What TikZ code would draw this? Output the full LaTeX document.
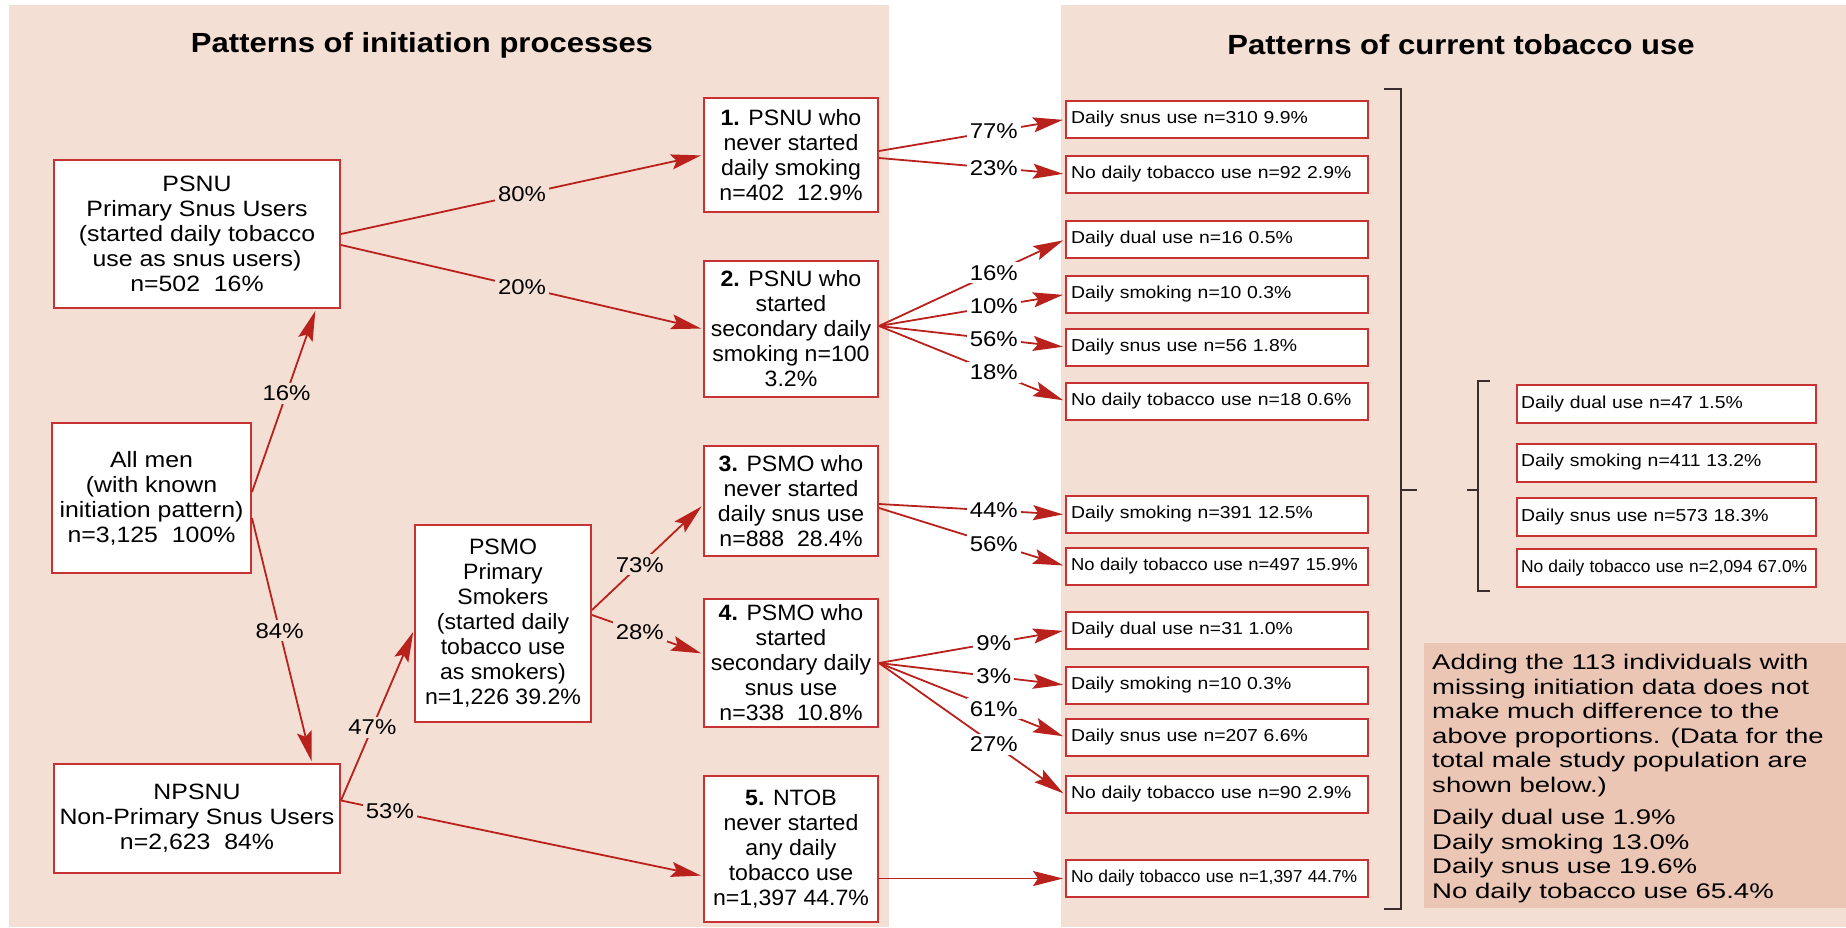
\documentclass[tikz,border=0pt]{standalone}
\usepackage{fontspec}
\setmainfont{Liberation Sans}[FakeStretch=1.12]
\newfontfamily\narrowfont{Liberation Sans}[FakeStretch=1.04]
\newfontfamily\notefont{Liberation Sans}[FakeStretch=1.3]
\usepackage{graphicx}
\usepackage{tikz}
\usetikzlibrary{arrows.meta}

\definecolor{panelbg}{RGB}{244,223,212}
\definecolor{notebg}{RGB}{236,198,181}
\definecolor{boxred}{RGB}{200,50,50}
\definecolor{arrred}{RGB}{184,33,28}
\definecolor{brkcol}{RGB}{60,45,45}

\newcommand{\narrowtxt}[2]{\scalebox{#1}[1]{#2}}

\begin{document}
\begin{tikzpicture}[x=1pt, y=-1pt,
    title/.style={font=\bfseries\fontsize{27.7}{30}\selectfont},
    box/.style={draw=boxred, fill=white, line width=2pt, align=center, inner sep=2pt,
      font=\fontsize{22.2}{25}\selectfont},
    nbox/.style={box, font=\narrowfont\fontsize{22.2}{25}\selectfont},
    outbox/.style={draw=boxred, fill=white, line width=2pt, text width=292pt, inner sep=5pt,
      minimum height=37pt, align=left, font=\fontsize{17.3}{20}\selectfont},
    pct/.style={fill=panelbg, inner sep=3pt, font=\fontsize{21.4}{24}\selectfont},
    pctw/.style={pct, fill=white},
    arr/.style={draw=arrred, line width=1.8pt, shorten >=2pt,
      -{Stealth[length=30pt, width=15pt, inset=5pt]}},
    brk/.style={draw=brkcol, line width=1.8pt},
    note/.style={align=left, inner sep=0pt, font=\notefont\fontsize{21.2}{24.5}\selectfont}]

    \useasboundingbox (0,0) rectangle (1846,927);

    % Panels
    \fill[panelbg] (9,5) rectangle (889,927);
    \fill[panelbg] (1061,5) rectangle (1846,927);
    \fill[notebg] (1424,643) rectangle (1846,908);

    % Titles
    \node[title] (tinit) at (422,45) {Patterns of initiation processes};
    \node[title] (tcurr) at (1461,45) {Patterns of current tobacco use};

    % Initiation groups
    \node[box, minimum width=286pt, minimum height=148pt] (psnu) at (197,234)
        {PSNU\\Primary Snus Users\\(started daily tobacco\\use as snus users)\\n=502\ \ 16\%};
    \node[box, minimum width=199pt, minimum height=150pt] (allmen) at (151.5,498)
        {All men\\(with known\\initiation pattern)\\n=3,125\ \ 100\%};
    \node[box, minimum width=286pt, minimum height=109pt] (npsnu) at (197,818.5)
        {NPSNU\\Non-Primary Snus Users\\n=2,623\ \ 84\%};
    \node[nbox, minimum width=176pt, minimum height=197pt] (psmo) at (503,623.5)
        {PSMO\\Primary\\Smokers\\(started daily\\tobacco use\\as smokers)\\n=1,226 39.2\%};

    % Patterns 1-5
    \node[nbox, minimum width=174pt, minimum height=114pt] (b1) at (791,155)
        {\textbf{1.} PSNU who\\never started\\daily smoking\\n=402\ \ 12.9\%};
    \node[nbox, minimum width=174pt, minimum height=136pt] (b2) at (791,329)
        {\textbf{2.} PSNU who\\started\\secondary daily\\smoking n=100\\3.2\%};
    \node[nbox, minimum width=174pt, minimum height=110pt] (b3) at (791,501)
        {\textbf{3.} PSMO who\\never started\\daily snus use\\n=888\ \ 28.4\%};
    \node[nbox, minimum width=174pt, minimum height=128pt] (b4) at (791,663)
        {\textbf{4.} PSMO who\\started\\secondary daily\\snus use\\n=338\ \ 10.8\%};
    \node[nbox, minimum width=174pt, minimum height=146pt] (b5) at (791,849)
        {\textbf{5.} NTOB\\never started\\any daily\\tobacco use\\n=1,397 44.7\%};

    % Current use
    \node[outbox] (oa) at (1217,119.5) {Daily snus use n=310 9.9\%};
    \node[outbox] (ob) at (1217,174) {No daily tobacco use n=92 2.9\%};
    \node[outbox] (oc) at (1217,239.5) {Daily dual use n=16 0.5\%};
    \node[outbox] (od) at (1217,294.5) {Daily smoking n=10 0.3\%};
    \node[outbox] (oe) at (1217,347) {Daily snus use n=56 1.8\%};
    \node[outbox] (of) at (1217,401) {No daily tobacco use n=18 0.6\%};
    \node[outbox] (og) at (1217,514.5) {Daily smoking n=391 12.5\%};
    \node[outbox] (oh) at (1217,566) {\narrowtxt{0.95}{No daily tobacco use n=497 15.9\%}};
    \node[outbox] (oi) at (1217,630.5) {Daily dual use n=31 1.0\%};
    \node[outbox] (oj) at (1217,685) {Daily smoking n=10 0.3\%};
    \node[outbox] (ok) at (1217,737) {Daily snus use n=207 6.6\%};
    \node[outbox] (ol) at (1217,794.5) {No daily tobacco use n=90 2.9\%};
    \node[outbox] (om) at (1217,878.5) {\narrowtxt{0.9}{No daily tobacco use n=1,397 44.7\%}};

    % Totals
    \node[outbox, text width=291pt, inner sep=4pt, minimum height=38pt] (sa) at (1666.5,404) {Daily dual use n=47 1.5\%};
    \node[outbox, text width=291pt, inner sep=4pt, minimum height=38pt] (sb) at (1666.5,462.5) {Daily smoking n=411 13.2\%};
    \node[outbox, text width=291pt, inner sep=4pt, minimum height=38pt] (sc) at (1666.5,517) {Daily snus use n=573 18.3\%};
    \node[outbox, text width=291pt, inner sep=4pt, minimum height=38pt] (sd) at (1666.5,568) {\narrowtxt{0.9}{No daily tobacco use n=2,094 67.0\%}};

    % Brackets
    \draw[brk] (1384,89) -- (1401,89) -- (1401,909) -- (1384,909);
    \draw[brk] (1401,490) -- (1417,490);
    \draw[brk] (1490,381) -- (1478,381) -- (1478,591) -- (1490,591);
    \draw[brk] (1467,490) -- (1478,490);

    % Note
    \node[note, anchor=north west] (note) at (1432,654)
        {Adding the 113 individuals with\\missing initiation data does not\\make much difference to the\\above proportions. (Data for the\\total male study population are\\shown below.)\\[8pt]
         Daily dual use 1.9\%\\Daily smoking 13.0\%\\Daily snus use 19.6\%\\No daily tobacco use 65.4\%};

    % Initiation arrows
    \draw[arr] ([yshift=6pt]allmen.east) -- node[pct, pos=0.54] {16\%} ([xshift=-25pt]psnu.south east);
    \draw[arr] ([yshift=-20pt]allmen.east) -- node[pct, pos=0.46] {84\%} ([xshift=-29pt]npsnu.north east);
    \draw[arr] (psnu.east) -- node[pct] {80\%} (b1.west);
    \draw[arr] ([yshift=-11pt]psnu.east) -- node[pct] {20\%} (b2.west);
    \coordinate (npout) at ([yshift=18pt]npsnu.east);
    \draw[arr] (npout) -- node[pct, pos=0.43] {47\%} ([yshift=-6.5pt]psmo.west);
    \draw[arr] (npout) -- node[pct, pos=0.135] {53\%} ([yshift=-27pt]b5.west);
    \draw[arr] ([yshift=13.5pt]psmo.east) -- node[pct, pos=0.43] {73\%} ([yshift=-4pt]b3.west);
    \draw[arr] ([yshift=8.5pt]psmo.east) -- node[pct, pos=0.43] {28\%} ([yshift=9pt]b4.west);

    % Current use arrows
    \draw[arr] ([yshift=4pt]b1.east) -- node[pctw, pos=0.617] {77\%} (oa.west);
    \draw[arr] ([yshift=-3pt]b1.east) -- node[pctw, pos=0.617] {23\%} (ob.west);
    \foreach \tgt/\val in {oc/16, od/10, oe/56, of/18}
        \draw[arr] ([yshift=3pt]b2.east) -- node[pctw, pos=0.617] {\val\%} (\tgt.west);
    \draw[arr] ([yshift=-3pt]b3.east) -- node[pctw, pos=0.617] {44\%} (og.west);
    \draw[arr] ([yshift=-7pt]b3.east) -- node[pctw, pos=0.617] {56\%} (oh.west);
    \foreach \tgt/\val in {oi/9, oj/3, ok/61, ol/27}
        \draw[arr] (b4.east) -- node[pctw, pos=0.617] {\val\%} (\tgt.west);
    \draw[arr] (om.west -| b5.east) -- (om.west);
\end{tikzpicture}
\end{document}
